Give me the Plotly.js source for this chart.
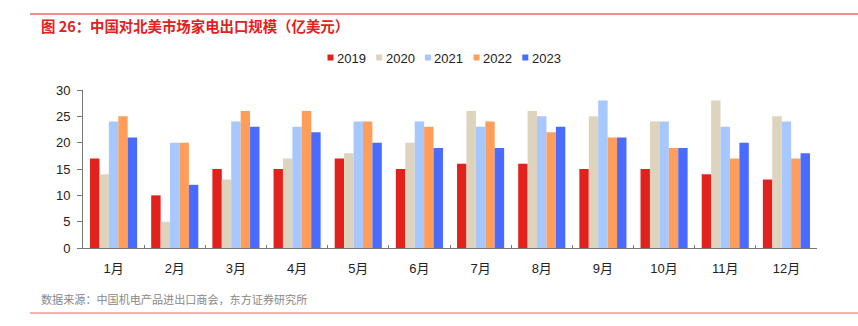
<!DOCTYPE html>
<html><head><meta charset="utf-8">
<script src="https://cdn.plot.ly/plotly-3.0.1.min.js"></script>
<style>html,body{margin:0;padding:0;background:#fff;}#chart{width:858px;height:326px;}</style>
</head><body><div id="chart"></div>
<script>
const months = ['1月','2月','3月','4月','5月','6月','7月','8月','9月','10月','11月','12月'];
const years = ['2019','2020','2021','2022','2023'];
const v2019 = [17,10,15,15,17,15,16,16,15,15,14,13];
const v2020 = [14,5,13,17,18,20,26,26,25,24,28,25];
const v2021 = [24,20,24,23,24,24,23,25,28,24,23,24];
const v2022 = [25,20,26,26,24,23,24,22,21,19,17,17];
const v2023 = [21,12,23,22,20,19,19,23,21,19,20,18];
const yTicks = [0,5,10,15,20,25,30];
const colors = ['#E2201C','#DED4BD','#A7C8FF','#FF9E5A','#4A6BFF'];
const series = [v2019,v2020,v2021,v2022,v2023];

const traces = series.map((vals,i)=>({
  type:'bar', x:months, y:vals, name:years[i],
  marker:{color:colors[i], line:{width:0}}
}));

const W=734, H=158, L=83, T=90;
const px = p => (p-L)/W;
const py = p => (T+H-p)/H;

const shapes = [
  {type:'line', xref:'paper', yref:'paper', x0:px(30), x1:px(858), y0:py(14), y1:py(14), line:{color:'#E2201C', width:1}},
  {type:'line', xref:'paper', yref:'paper', x0:px(30), x1:px(858), y0:py(313), y1:py(313), line:{color:'#E86A5E', width:1}}
];
const annotations = [
  {xref:'paper', yref:'paper', x:px(39), y:py(25), xanchor:'left', yanchor:'middle', showarrow:false,
   text:'图 26：中国对北美市场家电出口规模（亿美元）',
   font:{size:14.4, color:'#E2201C', family:'"Noto Sans CJK SC", sans-serif', weight:'bold'}},
  {xref:'paper', yref:'paper', x:px(39), y:py(299), xanchor:'left', yanchor:'middle', showarrow:false,
   text:'数据来源：中国机电产品进出口商会，东方证券研究所',
   font:{size:11.1, color:'#888', family:'"Noto Sans CJK SC", sans-serif'}}
];
// compact legend (square swatches) built from years/colors
years.forEach((yr,i)=>{
  const x0 = 327.5 + 48.7*i;
  shapes.push({type:'rect', xref:'paper', yref:'paper', x0:px(x0), x1:px(x0+6), y0:py(54.5), y1:py(60.5),
    line:{width:0}, fillcolor:colors[i]});
  annotations.push({xref:'paper', yref:'paper', x:px(x0+7.5), y:py(58), xanchor:'left', yanchor:'middle',
    showarrow:false, text:yr, font:{size:13, color:'#222'}});
});

const layout = {
  width:858, height:326,
  margin:{l:83,r:41,t:90,b:78,pad:0},
  paper_bgcolor:'#fff', plot_bgcolor:'#fff',
  barmode:'group', bargap:0.23, bargroupgap:0,
  font:{family:'"Liberation Sans", Arial, "Noto Sans CJK SC", sans-serif', size:13, color:'#222'},
  showlegend:false,
  xaxis:{type:'category', showline:true, linecolor:'#777', linewidth:1,
    ticks:'inside', tickson:'boundaries', ticklen:3, tickcolor:'#777',
    ticklabelstandoff:8,
    tickfont:{size:13,color:'#222'}, showgrid:false, zeroline:false},
  yaxis:{range:[0,30], tickvals:yTicks, showline:true, linecolor:'#777', linewidth:1,
    ticks:'outside', ticklen:5, tickcolor:'#777', showgrid:false, zeroline:false,
    ticklabelstandoff:4,
    tickfont:{size:13,color:'#222'}},
  shapes:shapes,
  annotations:annotations
};
Plotly.newPlot('chart', traces, layout, {displayModeBar:false, staticPlot:true});
</script></body></html>
